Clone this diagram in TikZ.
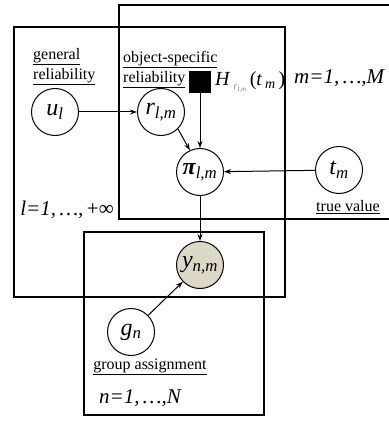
\documentclass[tikz,border=0pt]{standalone}
\usepackage{fontspec}
\setmainfont{Liberation Serif}
\usetikzlibrary{arrows.meta}
\definecolor{obsfill}{HTML}{DDD8C4}
\tikzset{
  var/.style={circle,draw,line width=1pt,minimum size=47pt,inner sep=0pt,
    font=\fontsize{24}{26}\selectfont\itshape},
  obs/.style={var,fill=obsfill},
  plate/.style={line width=2pt},
  lbl/.style={font=\fontsize{16}{18}\selectfont,inner sep=0pt},
  idx/.style={font=\fontsize{21}{23}\selectfont\itshape,inner sep=0pt},
  edge/.style={-{Stealth[length=7pt,width=5pt]},line width=1pt}
}
\begin{document}
\begin{tikzpicture}[x=1pt,y=-1pt]
  \useasboundingbox (0,0) rectangle (388,422);
  % plates
  \draw[plate] (14,27) rectangle (285,297);
  \draw[plate] (390,5) -- (119,5) -- (119,219) -- (390,219);
  \draw[plate] (84,232) rectangle (264,415);
  % variables
  \node[var] (u) at (55,112) {u\textsubscript{l}};
  \node[var] (r) at (161,112) {r\textsubscript{l,m}};
  \node[var] (pi) at (200,172) {\textbf{π}\textsubscript{l,m}};
  \node[var] (t) at (339,170) {t\textsubscript{m}};
  \node[obs] (y) at (200,265) {y\textsubscript{n,m}};
  \node[var] (g) at (131,332) {g\textsubscript{n}};
  \node[draw,fill=black,minimum size=21pt,inner sep=0pt] (H) at (200,82) {};
  \node[anchor=west,inner sep=0pt,font=\fontsize{20}{22}\selectfont\itshape] (Hlbl) at (215,82)
    {H\hspace{4pt}\raisebox{-4pt}{\fontsize{10}{11}\selectfont\textcolor{gray}{r\textsubscript{l,m}}}\hspace{3pt}\textup{(}t\hspace{3pt}\textsubscript{m}\hspace{3pt}\textup{)}};
  % labels
  \node[lbl,align=left,anchor=north west] (gen) at (33,48)
    {\underline{general}\\[2pt]\underline{reliability}};
  \node[lbl,align=left,anchor=north west] (obj) at (123,51)
    {\underline{object-specific}\\[2pt]\underline{reliability}};
  \node[lbl] (tv) at (348,207) {\underline{true value}};
  \node[lbl] (ga) at (150,367) {\underline{group assignment}};
  \node[idx] (lidx) at (67,210) {l=1,\,…,\,\textup{+∞}};
  \node[idx,anchor=west] (midx) at (294,78) {m=1,\,…,M};
  \node[idx] (nidx) at (140,398) {n=1,\,…,N};
  % edges
  \draw[edge] (u) -- (r);
  \draw[edge] (r.-45) -- (pi.115);
  \draw[edge] (H) -- (pi);
  \draw[edge] (t) -- (pi);
  \draw[edge] (pi) -- (y);
  \draw[edge] (g) -- (y);
\end{tikzpicture}
\end{document}
